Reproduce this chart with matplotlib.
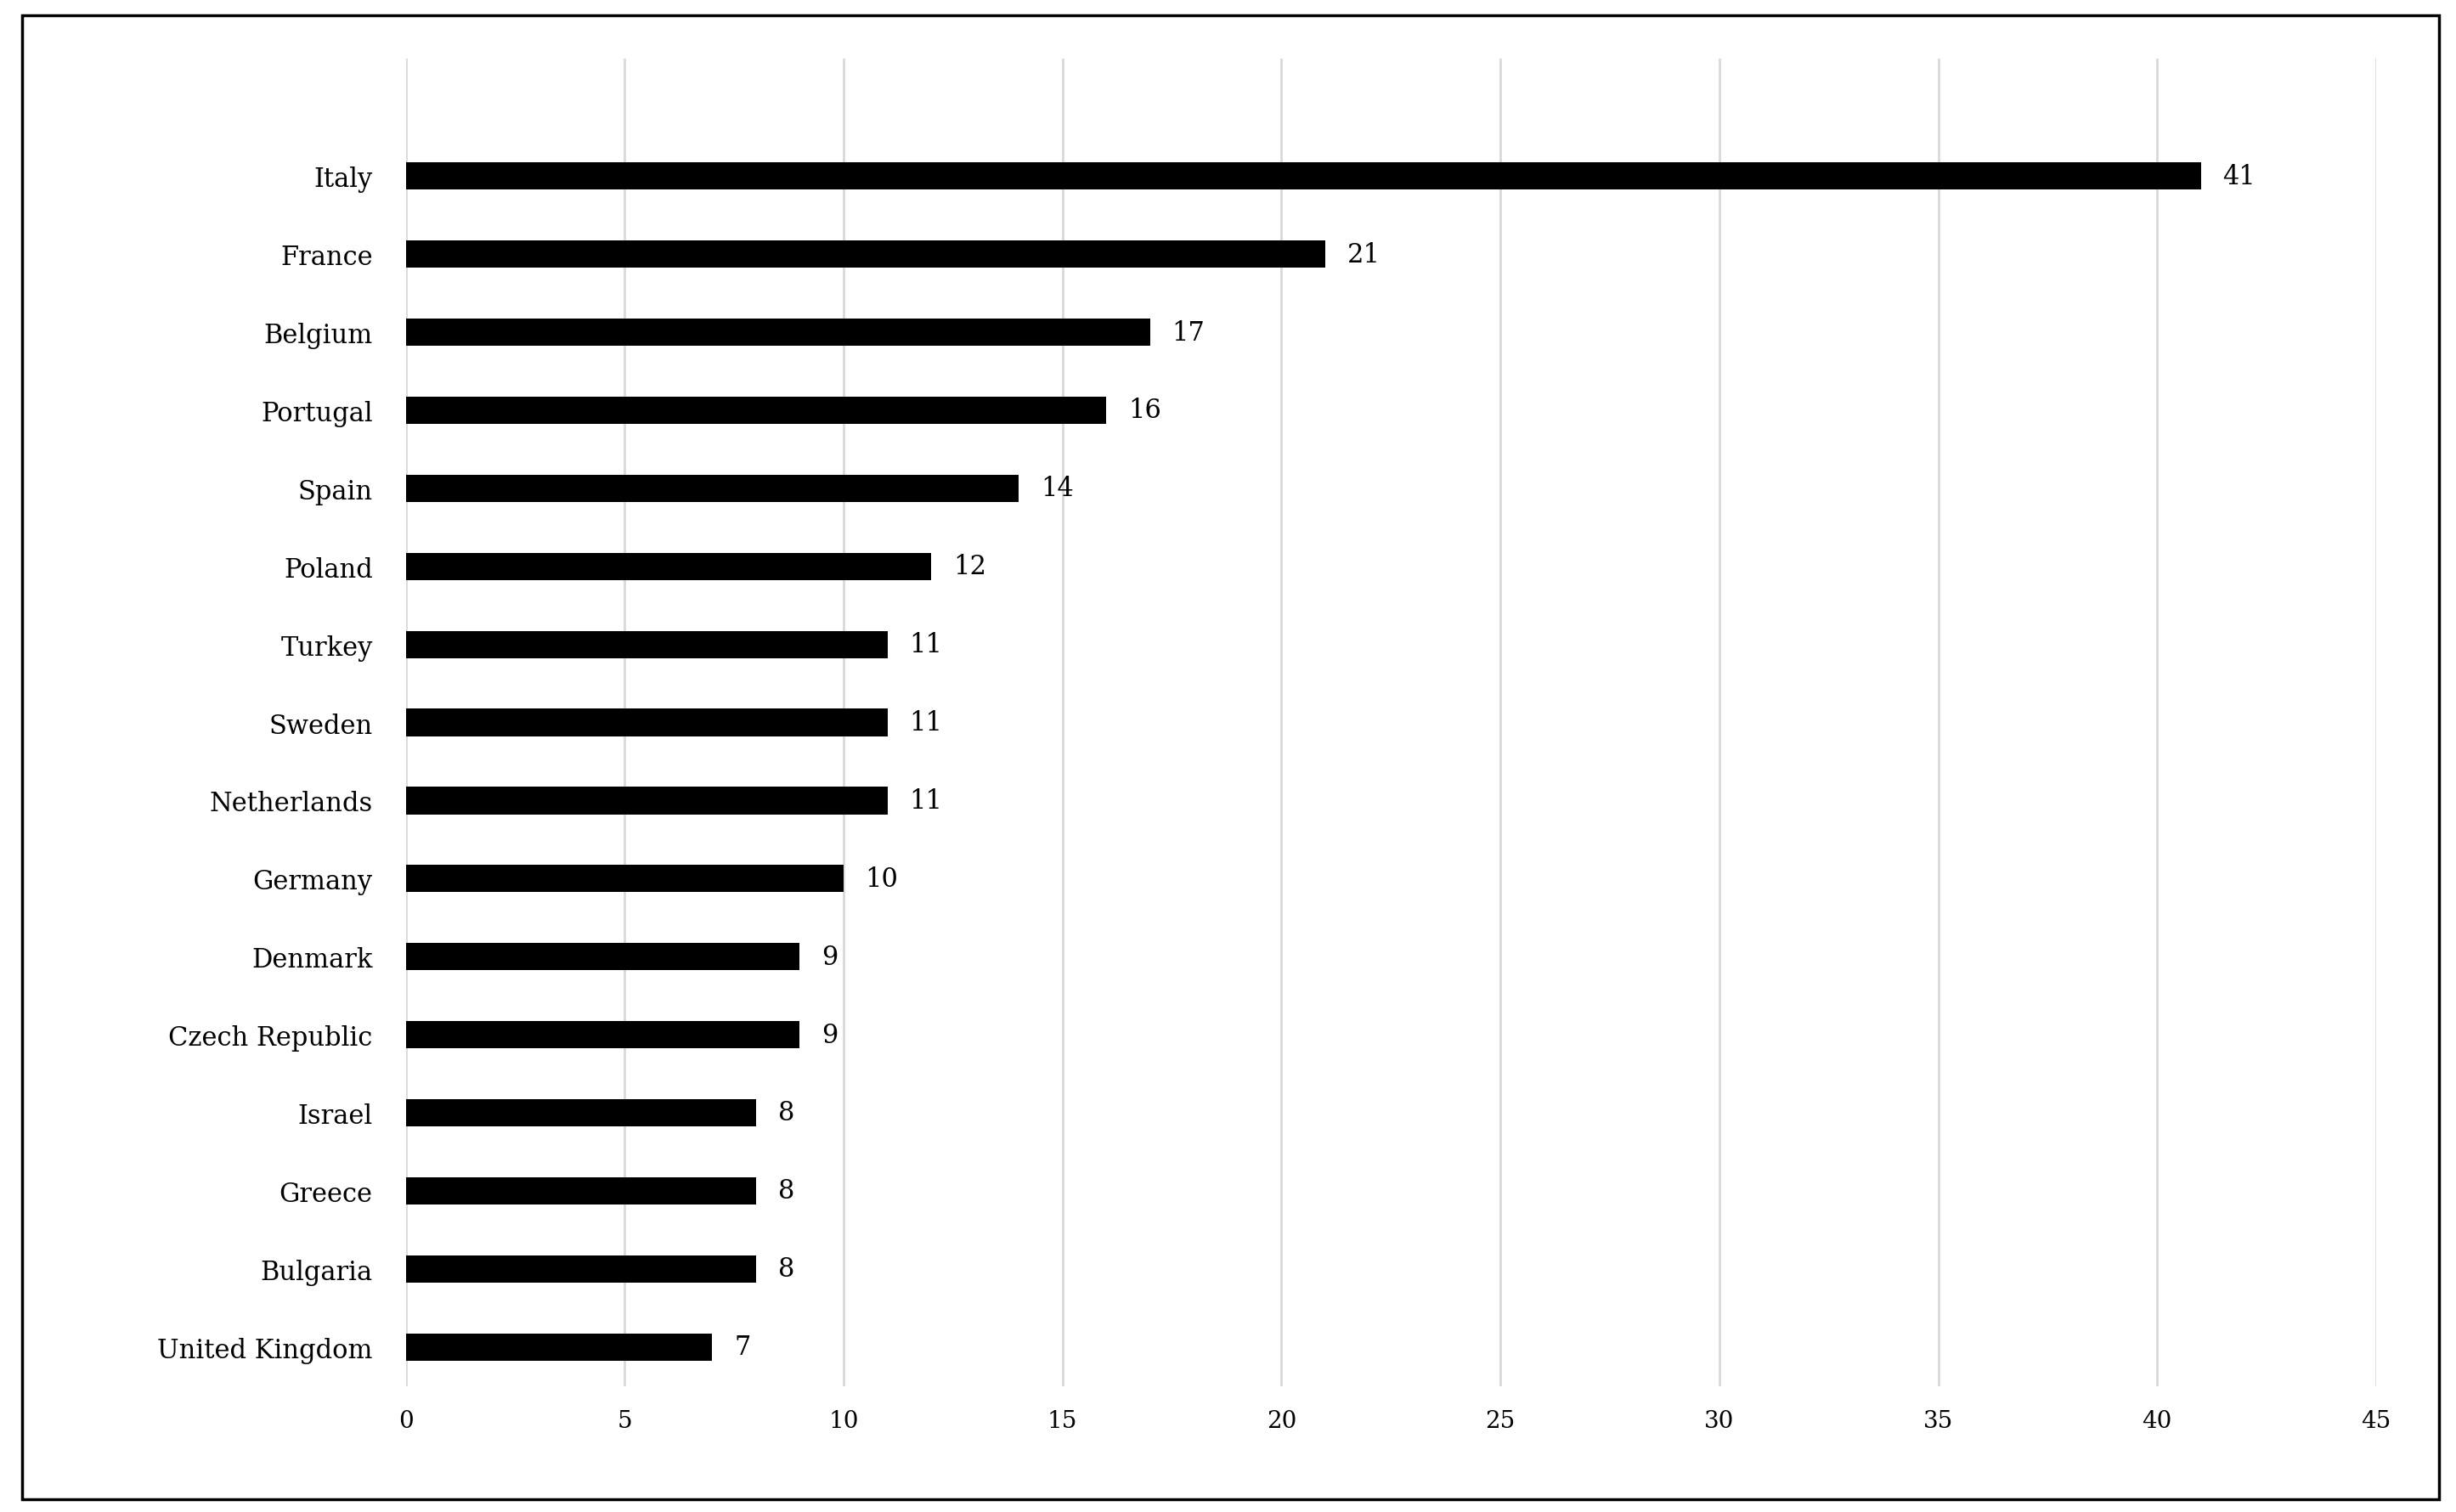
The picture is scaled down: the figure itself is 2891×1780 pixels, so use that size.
import matplotlib
matplotlib.use("Agg")
import matplotlib.pyplot as plt
from matplotlib.patches import Rectangle

countries = ["Italy", "France", "Belgium", "Portugal", "Spain", "Poland", "Turkey", "Sweden",
             "Netherlands", "Germany", "Denmark", "Czech Republic", "Israel", "Greece",
             "Bulgaria", "United Kingdom"]
values = [41, 21, 17, 16, 14, 12, 11, 11, 11, 10, 9, 9, 8, 8, 8, 7]
xticks = [0, 5, 10, 15, 20, 25, 30, 35, 40, 45]

plt.rcParams['font.family'] = ['DejaVu Serif']
fig = plt.figure(figsize=(28.91, 17.81), dpi=100)
fig.patches.append(Rectangle((14/1568, 1-952/960), (1557-14)/1568, (952-10)/960,
                             transform=fig.transFigure, fill=False, edgecolor='black', linewidth=2.5))
ax = fig.add_axes([259/1568, 1-880/960, (1517-259)/1568, (880-38)/960])
y = list(range(len(countries)))
ax.barh(y, values, height=0.35, color='black', zorder=3)
for yi, v in zip(y, values):
    ax.text(v + 0.5, yi, str(v), va='center', ha='left', fontsize=22)
ax.set_yticks(y)
ax.set_yticklabels(countries, fontsize=22)
ax.set_ylim(len(countries) - 0.5 + 0.0, -1.5)
ax.set_xlim(0, 45)
ax.set_xticks(xticks)
ax.set_xticklabels([str(t) for t in xticks], fontsize=20)
ax.grid(axis='x', color='#d9d9d9', linewidth=2, zorder=0)
for s in ax.spines.values():
    s.set_visible(False)
ax.tick_params(axis='both', length=0, pad=28)
ax.tick_params(axis='x', pad=20)
fig.savefig("out.png", dpi=100)
